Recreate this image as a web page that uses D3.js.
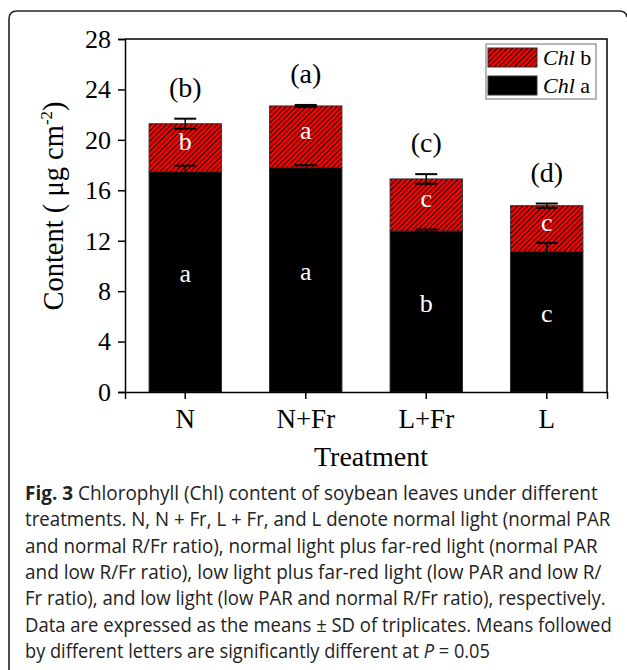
<!DOCTYPE html>
<html>
<head>
<meta charset="utf-8">
<script src="https://cdn.jsdelivr.net/npm/d3@7"></script>
<style>
  body { margin: 0; background: #fff; }
  svg text { font-family: "Liberation Serif", "Times New Roman", serif; }
  svg text.caption { font-family: "Open Sans", "Noto Sans", sans-serif; }
</style>
</head>
<body>
<div id="chart"></div>
<script>
// values
const categories = ["N", "N+Fr", "L+Fr", "L"];
const chlA = [17.47, 17.79, 12.77, 11.15];
const chlASd = [0.48, 0.20, 0.12, 0.68];
const chlB = [3.81, 4.90, 4.13, 3.63];
const totalSd = [0.40, 0.08, 0.38, 0.17];
const lettersA = ["a", "a", "b", "c"];
const lettersB = ["b", "a", "c", "c"];
const lettersTotal = ["(b)", "(a)", "(c)", "(d)"];
const yTicks = [0, 4, 8, 12, 16, 20, 24, 28];

const captionLines = [
  "Chlorophyll (Chl) content of soybean leaves under different",
  "treatments. N, N + Fr, L + Fr, and L denote normal light (normal PAR",
  "and normal R/Fr ratio), normal light plus far-red light (normal PAR",
  "and low R/Fr ratio), low light plus far-red light (low PAR and low R/",
  "Fr ratio), and low light (low PAR and normal R/Fr ratio), respectively.",
  "Data are expressed as the means \u00b1 SD of triplicates. Means followed",
  "by different letters are significantly different at "
];
const captionWidths = [573, 586, 573, 577, 581, 587, 465];

const W = 627, H = 670;
const plot = { left: 125, right: 607, top: 39, bottom: 392 };

const svg = d3.select("#chart").append("svg")
    .attr("width", W)
    .attr("height", H);

// hatch for Chl b
const defs = svg.append("defs");
const pat = defs.append("pattern")
    .attr("id", "hatch")
    .attr("patternUnits", "userSpaceOnUse")
    .attr("width", 3.6)
    .attr("height", 3.6)
    .attr("patternTransform", "rotate(45)");
pat.append("rect").attr("width", 3.6).attr("height", 3.6).attr("fill", "#ff0000");
pat.append("line")
    .attr("x1", 0.5).attr("y1", 0).attr("x2", 0.5).attr("y2", 3.6)
    .attr("stroke", "#000").attr("stroke-width", 1);

// outer frame (rounded, open at the bottom / right)
svg.append("path")
    .attr("d", "M9,672 L9,19 Q9,11 17,11 L619,11 Q626,11 627,17")
    .attr("fill", "none")
    .attr("stroke", "#222")
    .attr("stroke-width", 1.6);

const x = d3.scaleBand()
    .domain(categories)
    .range([plot.left, plot.right])
    .paddingInner(0.4)
    .paddingOuter(0.2);

const y = d3.scaleLinear()
    .domain([0, 28])
    .range([plot.bottom, plot.top]);

const rows = categories.map((c, i) => ({
  cat: c, a: chlA[i], aSd: chlASd[i], b: chlB[i], tot: chlA[i] + chlB[i], totSd: totalSd[i],
  la: lettersA[i], lb: lettersB[i], lt: lettersTotal[i]
}));

// bars
svg.selectAll("rect.chla")
  .data(rows)
  .enter().append("rect")
    .attr("class", "chla")
    .attr("x", d => x(d.cat))
    .attr("y", d => y(d.a))
    .attr("width", x.bandwidth())
    .attr("height", d => y(0) - y(d.a))
    .attr("fill", "#000")
    .attr("stroke", "#222")
    .attr("stroke-width", 1);

svg.selectAll("rect.chlb")
  .data(rows)
  .enter().append("rect")
    .attr("class", "chlb")
    .attr("x", d => x(d.cat))
    .attr("y", d => y(d.tot))
    .attr("width", x.bandwidth())
    .attr("height", d => y(d.a) - y(d.tot))
    .attr("fill", "url(#hatch)")
    .attr("stroke", "#333")
    .attr("stroke-width", 1);

// error bars
function errorBar(val, sd) {
  return rows.map(d => ({ cx: x(d.cat) + x.bandwidth() / 2, lo: val(d) - sd(d), hi: val(d) + sd(d) }));
}
const errs = errorBar(d => d.a, d => d.aSd).concat(errorBar(d => d.tot, d => d.totSd));
const eg = svg.append("g").attr("stroke", "#000");
errs.forEach(e => {
  eg.append("line").attr("x1", e.cx).attr("x2", e.cx).attr("y1", y(e.lo)).attr("y2", y(e.hi)).attr("stroke-width", 1.5);
  [e.lo, e.hi].forEach(v => {
    eg.append("line").attr("x1", e.cx - 11).attr("x2", e.cx + 11).attr("y1", y(v)).attr("y2", y(v)).attr("stroke-width", 2);
  });
});

// letters inside bars
svg.selectAll("text.la")
  .data(rows)
  .enter().append("text")
    .attr("x", d => x(d.cat) + x.bandwidth() / 2)
    .attr("y", d => y(d.a / 2))
    .attr("text-anchor", "middle")
    .attr("fill", "#fff")
    .attr("font-size", 26)
    .text(d => d.la);

svg.selectAll("text.lb")
  .data(rows)
  .enter().append("text")
    .attr("x", d => x(d.cat) + x.bandwidth() / 2)
    .attr("y", d => y(d.a + d.b / 2) + 2)
    .attr("text-anchor", "middle")
    .attr("fill", "#fff")
    .attr("font-size", 26)
    .text(d => d.lb);

svg.selectAll("text.lt")
  .data(rows)
  .enter().append("text")
    .attr("x", d => x(d.cat) + x.bandwidth() / 2)
    .attr("y", d => y(d.tot + d.totSd) - 22)
    .attr("text-anchor", "middle")
    .attr("fill", "#000")
    .attr("font-size", 28)
    .text(d => d.lt);

// axes
const yAxis = svg.append("g")
    .attr("transform", `translate(${plot.left},0)`)
    .call(d3.axisLeft(y).tickValues(yTicks).tickSize(7).tickPadding(7).tickFormat(d3.format("d")));
yAxis.selectAll("text").attr("font-size", 26).attr("fill", "#000")
    .attr("font-family", "Liberation Serif");

const xAxis = svg.append("g")
    .attr("transform", `translate(0,${plot.bottom})`)
    .call(d3.axisBottom(x).tickSize(7).tickPadding(10));
xAxis.selectAll("text").attr("font-size", 27).attr("fill", "#000")
    .attr("font-family", "Liberation Serif");

[yAxis, xAxis].forEach(g => {
  g.select(".domain").attr("stroke", "#000").attr("stroke-width", 1.5);
  g.selectAll(".tick line").attr("stroke", "#000").attr("stroke-width", 1.5);
});

// top and right frame of the plot
svg.append("path")
    .attr("d", `M${plot.left},${plot.top}H${plot.right}V${plot.bottom}`)
    .attr("fill", "none")
    .attr("stroke", "#000")
    .attr("stroke-width", 1.5);

// axis titles
svg.append("text")
    .attr("x", (plot.left + plot.right) / 2 + 5)
    .attr("y", 466)
    .attr("text-anchor", "middle")
    .attr("font-size", 28)
    .text("Treatment");

const yt = svg.append("text")
    .attr("transform", "translate(63,206) rotate(-90)")
    .attr("text-anchor", "middle")
    .attr("font-size", 28.5);
yt.append("tspan").text("Content ( \u03bcg cm");
yt.append("tspan").attr("font-size", 17).attr("dy", -11).text("-2");
yt.append("tspan").attr("dy", 11).text(")");

// legend
const leg = svg.append("g");
leg.append("rect")
    .attr("x", 486).attr("y", 44).attr("width", 110).attr("height", 55)
    .attr("fill", "#fff").attr("stroke", "#888").attr("stroke-width", 1.2);
const legItems = [{ fill: "url(#hatch)", sub: "b", y: 48 }, { fill: "#000", sub: "a", y: 76 }];
legItems.forEach(it => {
  leg.append("rect")
      .attr("x", 488).attr("y", it.y).attr("width", 49).attr("height", 19)
      .attr("fill", it.fill).attr("stroke", "#333").attr("stroke-width", 1);
  const t = leg.append("text").attr("x", 543).attr("y", it.y + 17).attr("font-size", 22);
  t.append("tspan").attr("font-style", "italic").text("Chl");
  t.append("tspan").text(" " + it.sub);
});

// caption: draw at natural width, then squeeze horizontally to the measured line width
const cap = svg.append("g").attr("fill", "#222");
captionLines.forEach((line, i) => {
  const t = cap.append("text")
      .attr("class", "caption")
      .attr("x", 0)
      .attr("y", 0)
      .attr("font-size", 19.5);
  if (i === 0) {
    t.append("tspan").attr("font-weight", "bold").text("Fig. 3");
    t.append("tspan").text(" " + line);
  } else if (i === captionLines.length - 1) {
    t.append("tspan").text(line);
    t.append("tspan").attr("font-style", "italic").text("P");
    t.append("tspan").text(" = 0.05");
  } else {
    t.text(line);
  }
  const w = t.node().getComputedTextLength();
  t.attr("transform", `translate(25,${500 + i * 26.3}) scale(${captionWidths[i] / w},1)`);
});
</script>
</body>
</html>
